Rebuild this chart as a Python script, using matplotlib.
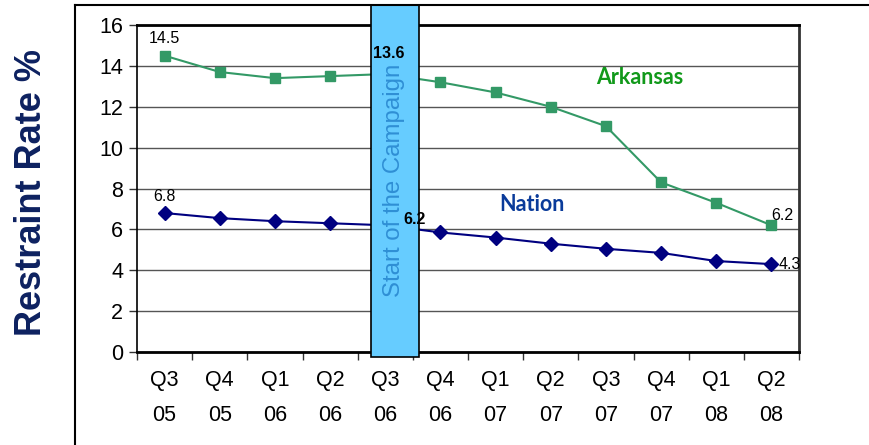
import matplotlib
matplotlib.use("Agg")
import matplotlib.pyplot as plt
from matplotlib.patches import Rectangle
from matplotlib.lines import Line2D
import numpy as np

quarters = ["Q3\n05", "Q4\n05", "Q1\n06", "Q2\n06", "Q3\n06", "Q4\n06",
            "Q1\n07", "Q2\n07", "Q3\n07", "Q4\n07", "Q1\n08", "Q2\n08"]
arkansas = [14.5, 13.7, 13.4, 13.5, 13.6, 13.2, 12.7, 12.0, 11.05, 8.3, 7.3, 6.2]
nation = [6.8, 6.55, 6.4, 6.3, 6.2, 5.85, 5.6, 5.3, 5.05, 4.85, 4.45, 4.3]
y_ticks = [0, 2, 4, 6, 8, 10, 12, 14, 16]
campaign_index = 4

plt.rcParams["font.family"] = ["Liberation Sans", "DejaVu Sans"]

fig = plt.figure(figsize=(8.70, 4.45), dpi=100)
ax = fig.add_axes([0.1575, 0.209, 0.7609, 0.7348])

x = np.arange(len(quarters))
green = "#339966"
navy = "#000080"

ax.plot(x, arkansas, color=green, lw=1.5, marker="s", ms=7.5,
        mec=green, mfc=green, zorder=3)
ax.plot(x, nation, color=navy, lw=1.5, marker="D", ms=7,
        mec=navy, mfc=navy, zorder=3)

ax.set_xlim(-0.5, len(quarters) - 0.5)
ax.set_ylim(0, 16)
ax.set_yticks(y_ticks)
ax.set_yticklabels([str(v) for v in y_ticks], fontsize=15.5)
ax.set_xticks(x)
ax.set_xticklabels(quarters, fontsize=15.5, linespacing=1.9)
ax.tick_params(axis="x", which="major", length=0, pad=13)
ax.set_xticks(np.arange(-0.5, len(quarters)), minor=True)
ax.tick_params(axis="x", which="minor", length=6, width=1, color="#333333")
ax.tick_params(axis="y", length=6, width=1, pad=4, color="#333333")

ax.yaxis.grid(True, color="#555555", lw=1)
ax.set_axisbelow(True)
for side in ["top", "bottom"]:
    ax.spines[side].set_linewidth(2)
    ax.spines[side].set_color("black")
ax.spines["left"].set_linewidth(1.2)
ax.spines["right"].set_linewidth(2)
ax.spines["right"].set_color("#333333")

# campaign marker band
band_left = campaign_index - 0.26
band_right = campaign_index + 0.61
band = Rectangle((band_left, -0.25), band_right - band_left, 17.25,
                 facecolor="#66CCFF", edgecolor="black", lw=1.2,
                 clip_on=False, zorder=4)
ax.add_patch(band)
ax.text(campaign_index + 0.16, 8.4, "Start of the Campaign",
        rotation=90, ha="center", va="center", fontsize=17.3,
        color="#2F8FD5", zorder=5)

# value labels
ax.text(0, arkansas[0] + 0.45, f"{arkansas[0]:.1f}", ha="center", va="bottom", fontsize=11.5)
ax.text(0, nation[0] + 0.45, f"{nation[0]:.1f}", ha="center", va="bottom", fontsize=11.5)
ax.text(campaign_index - 0.23, arkansas[campaign_index] + 1.0, f"{arkansas[campaign_index]:.1f}",
        ha="left", va="center", fontsize=11.5, fontweight="bold", zorder=6)
ax.text(campaign_index + 0.33, nation[campaign_index] + 0.27, f"{nation[campaign_index]:.1f}",
        ha="left", va="center", fontsize=11.5, fontweight="bold", zorder=6)
ax.text(len(quarters) - 1, arkansas[-1] + 0.1, f"{arkansas[-1]:.1f}",
        ha="left", va="bottom", fontsize=11.5)
ax.text(len(quarters) - 0.87, nation[-1], f"{nation[-1]:.1f}",
        ha="left", va="center", fontsize=11.5)

ax.text(8.62, 13.45, "Arkansas", color="#11991A", fontsize=15.5, fontweight="bold",
        family=["Lato", "DejaVu Sans"], ha="center", va="center")
ax.text(6.65, 7.2, "Nation", color="#0A3B9A", fontsize=15.5, fontweight="bold",
        family=["Lato", "DejaVu Sans"], ha="center", va="center")

fig.text(0.036, 0.567, "Restraint Rate %", rotation=90, ha="center", va="center",
         fontsize=26, fontweight="bold", color="#0D2160")

# outer frame
fig.add_artist(Line2D([75 / 870, 1.0], [1 - 5 / 445, 1 - 5 / 445],
                      transform=fig.transFigure, color="black", lw=1.5))
fig.add_artist(Line2D([75 / 870, 75 / 870], [0, 1 - 5 / 445],
                      transform=fig.transFigure, color="black", lw=1.5))

fig.savefig("out.png", dpi=100)
